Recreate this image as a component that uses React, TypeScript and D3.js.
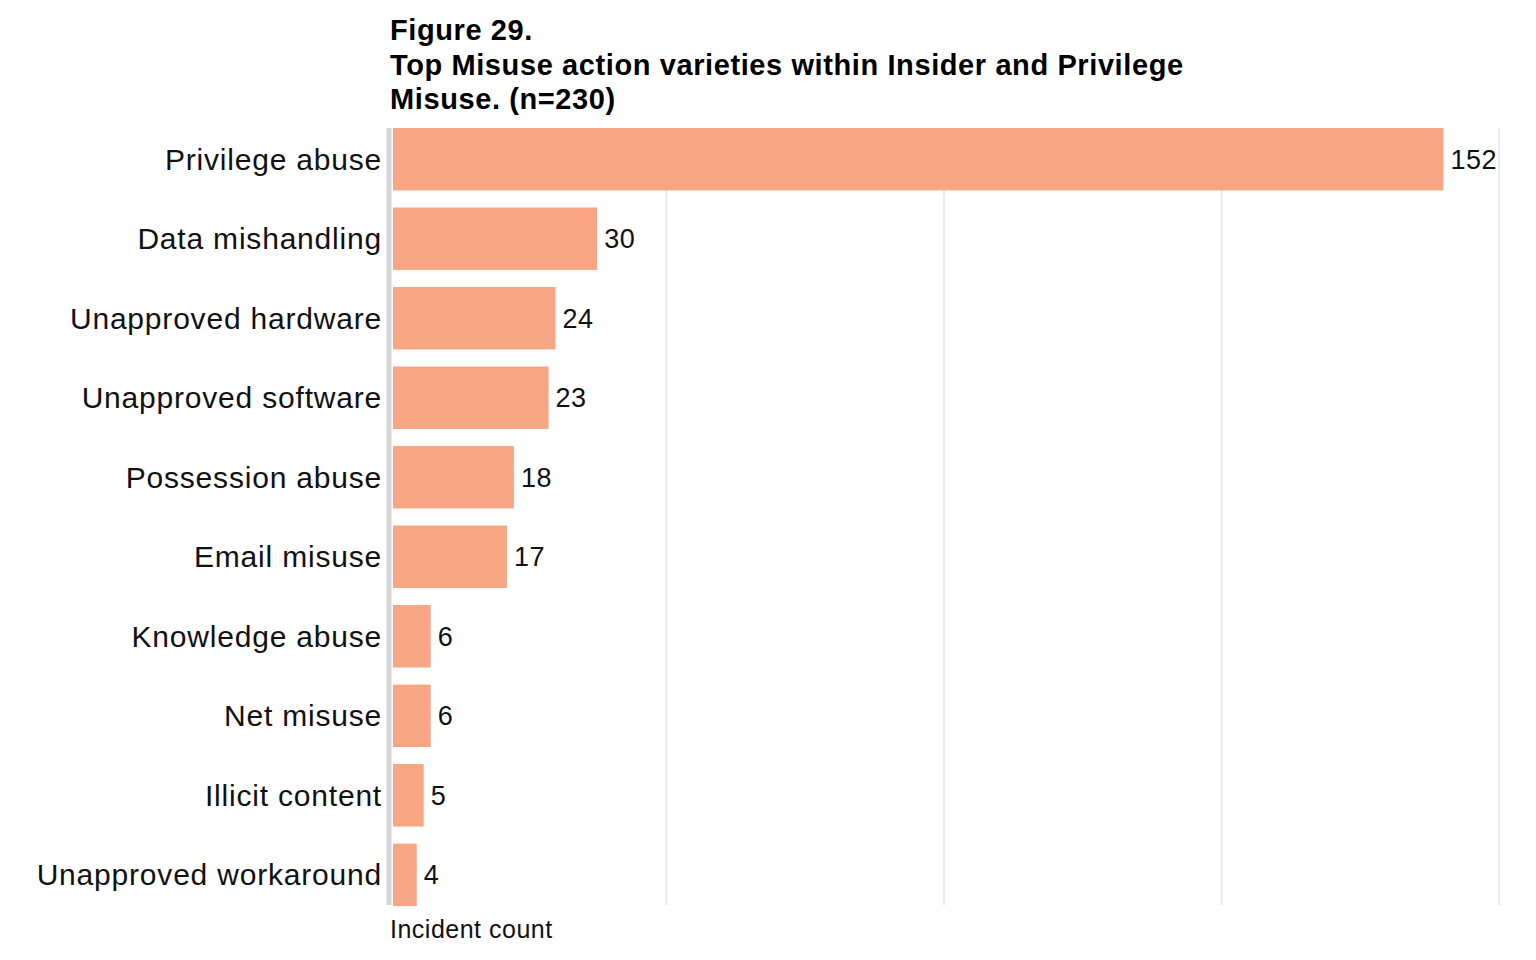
import React from 'react';
import * as d3 from 'd3';

const categories = [
  'Privilege abuse', 'Data mishandling', 'Unapproved hardware', 'Unapproved software',
  'Possession abuse', 'Email misuse', 'Knowledge abuse', 'Net misuse',
  'Illicit content', 'Unapproved workaround',
];
const values = [152, 30, 24, 23, 18, 17, 6, 6, 5, 4];
const gridTicks = [40, 80, 120, 160];
const titleLines = [
  'Figure 29.',
  'Top Misuse action varieties within Insider and Privilege',
  'Misuse. (n=230)',
];

const W = 1536;
const H = 960;
const font = '"Liberation Sans", Arial, sans-serif';

export default function App() {
  const x = d3.scaleLinear().domain([0, 160]).range([389, 1499]);
  const y = d3.scaleBand<string>().domain(categories).range([124, 910]).paddingInner(0.215).paddingOuter(0.05);
  const top = 128, bottom = 905;

  return (
    <svg width={W} height={H} style={{ display: 'block', margin: '-8px' }} fontFamily={font}>
      {titleLines.map((t, i) => (
        <text key={i} x={390} y={40 + i * 34.5} fontSize={29} letterSpacing={0.6} fontWeight="bold" fill="#000">{t}</text>
      ))}
      {gridTicks.map(t => (
        <line key={t} x1={x(t)} x2={x(t)} y1={top} y2={bottom} stroke="#e3e3e3" strokeWidth={1.5} />
      ))}
      {categories.map((c, i) => (
        <g key={c}>
          <rect x={x(0) + 4} y={y(c)} width={x(values[i]) - x(0) - 4} height={y.bandwidth()} fill="#f7a582" />
          <text x={382} y={y(c)! + y.bandwidth() / 2} dy="0.35em" textAnchor="end" fontSize={30} letterSpacing={0.8} fill="#111">{c}</text>
          <text x={x(values[i]) + 7} y={y(c)! + y.bandwidth() / 2} dy="0.35em" fontSize={27} letterSpacing={0.5} fill="#111">{values[i]}</text>
        </g>
      ))}
      <line x1={x(0)} x2={x(0)} y1={top} y2={bottom} stroke="#d6d6d6" strokeWidth={5} />
      <text x={390} y={938} fontSize={25} letterSpacing={0.5} fill="#111">Incident count</text>
    </svg>
  );
}
